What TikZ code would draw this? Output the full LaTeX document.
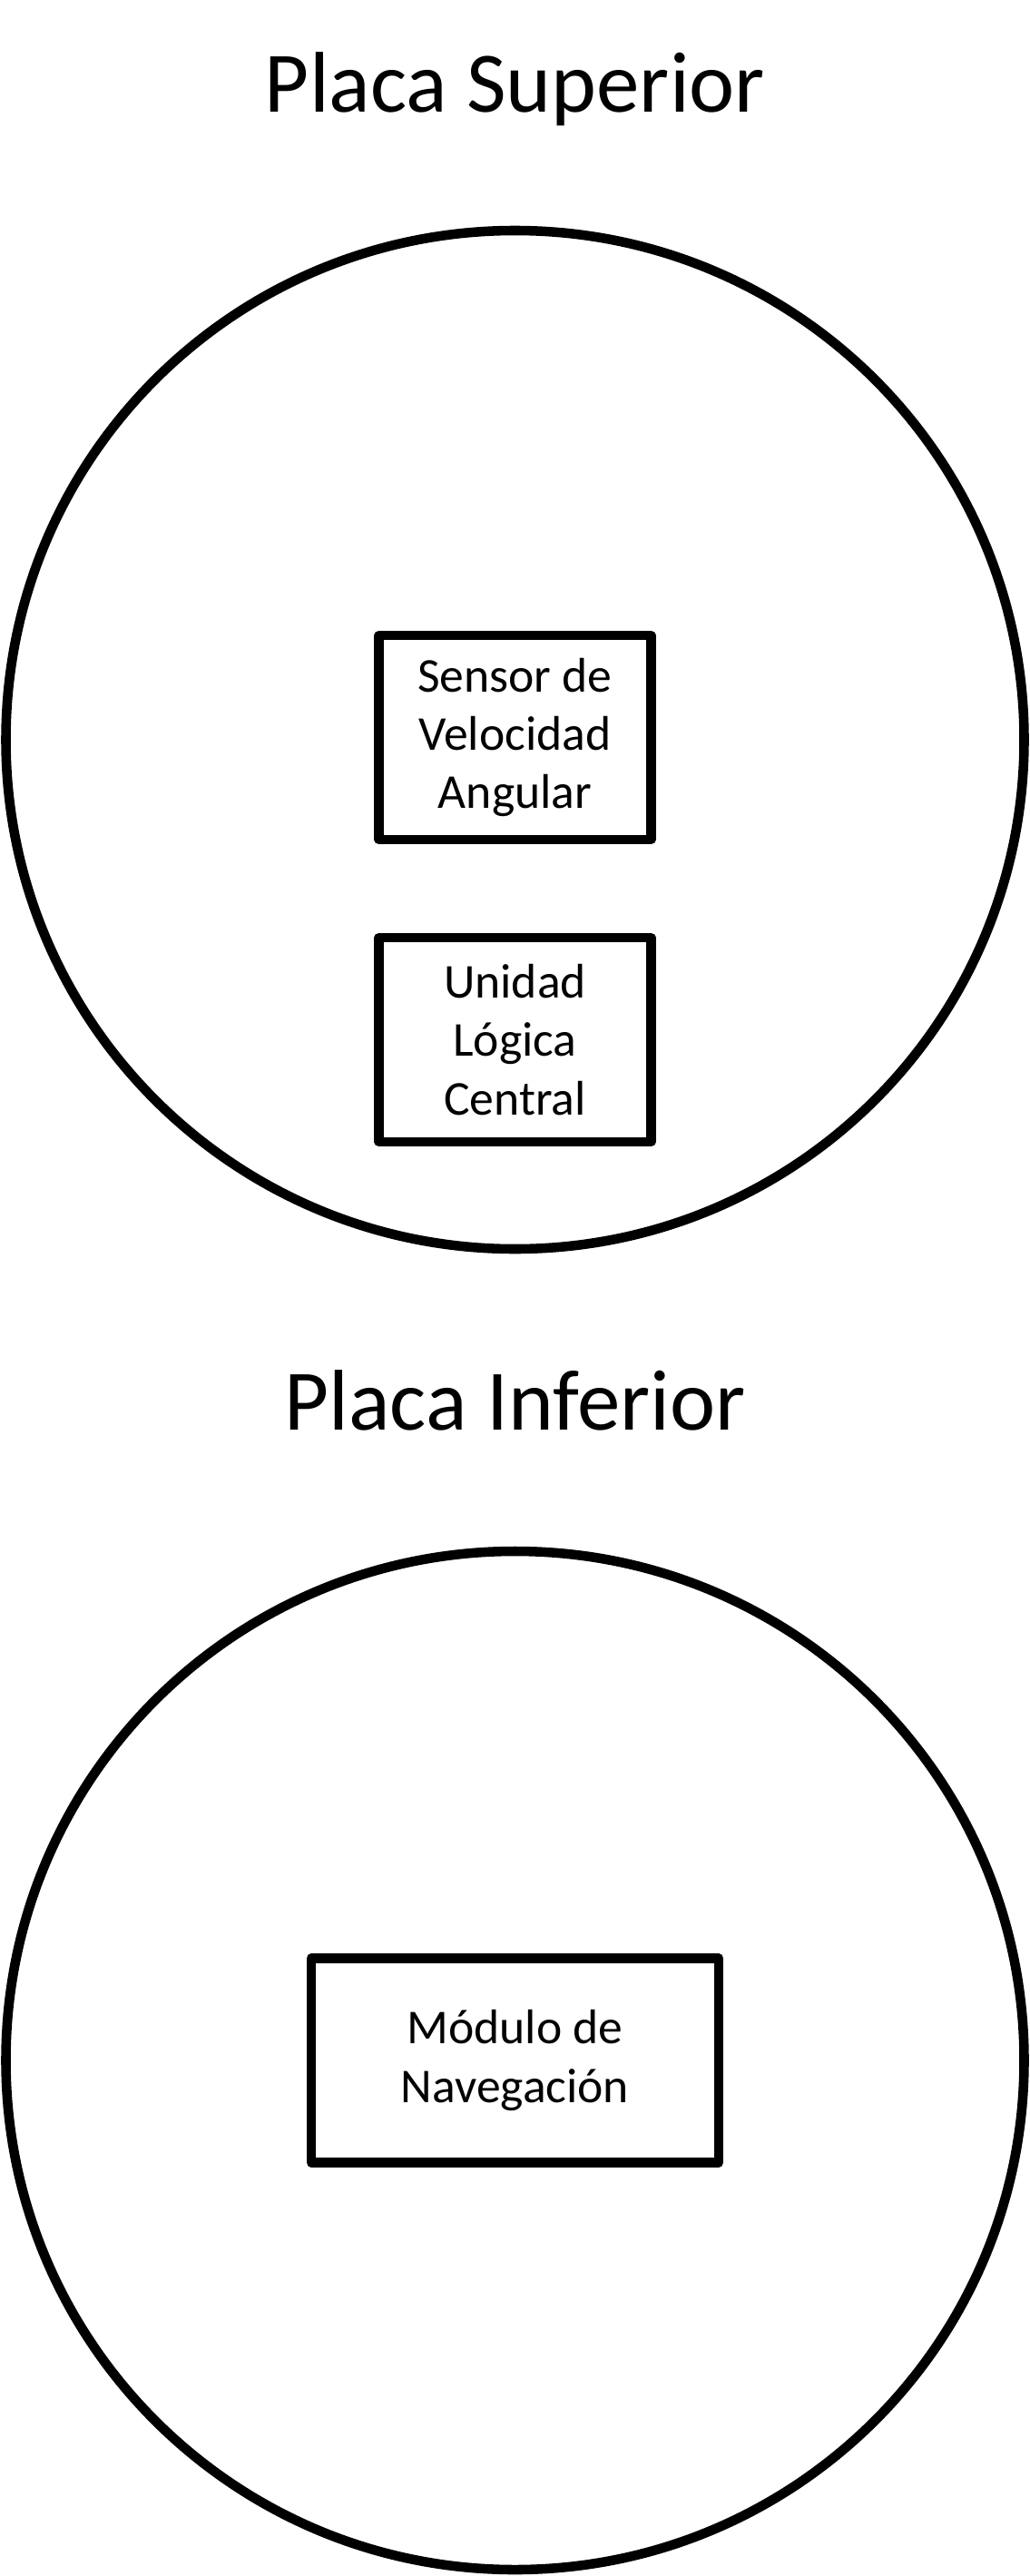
\documentclass[tikz,border=0pt]{standalone}
\usepackage{fontspec}
\setmainfont{Carlito}
\usetikzlibrary{positioning}

\begin{document}
\begin{tikzpicture}[
		plate/.style={draw, circle, line width=6pt, minimum size=22.44cm, inner sep=0pt, outer sep=0pt},
		part/.style={draw, line width=5.8pt, line join=round, minimum height=4.5cm, align=center, inner sep=0pt, outer sep=0pt, font=\fontsize{30.5}{36.6}\selectfont},
		heading/.style={anchor=base, font=\fontsize{54}{65}\selectfont}
		]
		\useasboundingbox (0,0) rectangle (22.7,-56.76);
		
		% Placas
		\node[plate] (upper) at (11.35,-16.3) {};
		\node[plate] (lower) at (11.35,-45.4) {};
		
		% Titulos
		\node[heading] (upperTitle) at (11.35,-2.48) {Placa Superior};
		\node[heading] (lowerTitle) at (11.35,-31.5) {Placa Inferior};
		
		% Componentes
		\node[part, minimum width=6cm] (gyro) at ([yshift=0.05cm]upper.center) {Sensor de\\Velocidad\\Angular};
		\node[part, minimum width=6cm, below=2.16cm of gyro] (cpu) {Unidad\\Lógica\\Central};
		\node[part, minimum width=8.98cm] (nav) at (lower.center) {Módulo de\\Navegación};
	\end{tikzpicture}
\end{document}
